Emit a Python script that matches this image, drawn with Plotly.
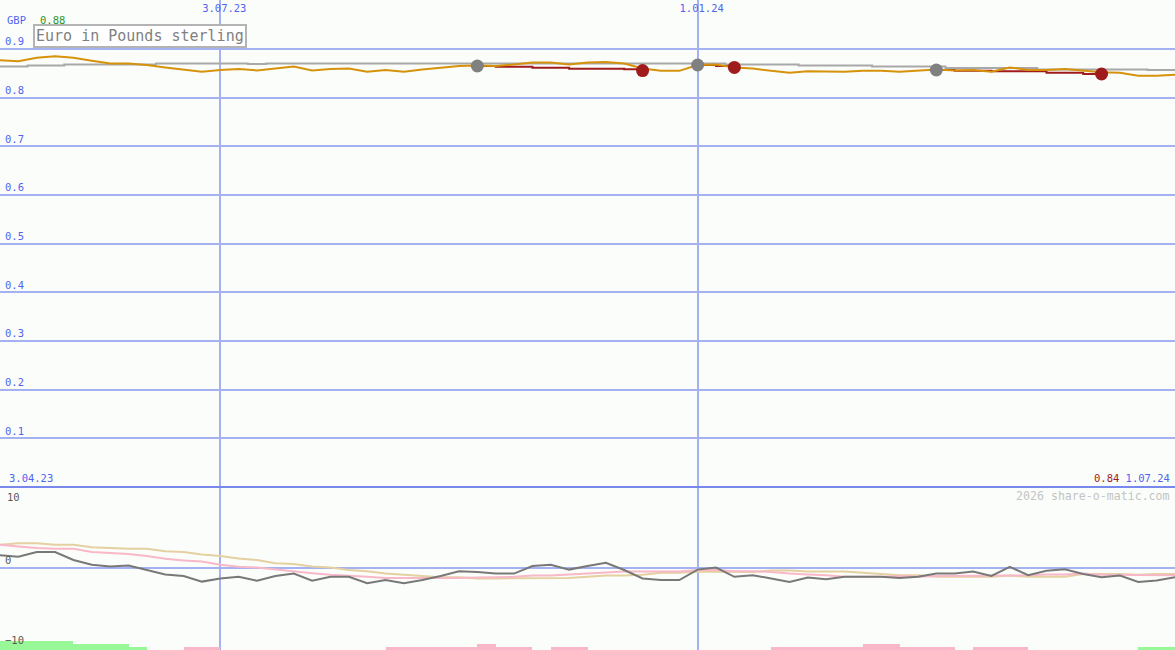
import pandas as pd
import plotly.graph_objects as go

# ==========================================
# DATA (weekly, 3.04.23 .. 1.07.24)
# ==========================================
dates = pd.date_range('2023-04-03', '2024-07-01', freq='7D')

# EUR in GBP, weekly close
eur_gbp = [0.877, 0.877, 0.875, 0.882, 0.885, 0.882, 0.876, 0.870, 0.870, 0.867,
           0.862, 0.858, 0.853, 0.857, 0.859, 0.856, 0.860, 0.864, 0.856, 0.859,
           0.860, 0.853, 0.857, 0.853, 0.858, 0.862, 0.865, 0.866, 0.865, 0.868,
           0.872, 0.872, 0.868, 0.872, 0.873, 0.870, 0.860, 0.855, 0.855, 0.867,
           0.868, 0.862, 0.860, 0.855, 0.851, 0.854, 0.854, 0.853, 0.855, 0.855,
           0.853, 0.855, 0.858, 0.856, 0.857, 0.853, 0.862, 0.857, 0.857, 0.859,
           0.855, 0.852, 0.851, 0.845, 0.845, 0.847]

# long moving average (grey step line)
avg_long = [0.864, 0.864, 0.864, 0.866, 0.866, 0.868, 0.868, 0.868, 0.868, 0.868,
            0.870, 0.870, 0.870, 0.870, 0.870, 0.869, 0.870, 0.870, 0.870, 0.870,
            0.870, 0.870, 0.870, 0.870, 0.870, 0.870, 0.870, 0.870, 0.870, 0.870,
            0.870, 0.870, 0.870, 0.870, 0.870, 0.870, 0.870, 0.870, 0.870, 0.870,
            0.870, 0.868, 0.868, 0.868, 0.868, 0.866, 0.866, 0.866, 0.866, 0.864,
            0.864, 0.864, 0.864, 0.861, 0.861, 0.861, 0.861, 0.861, 0.858, 0.858,
            0.858, 0.858, 0.858, 0.858, 0.857, 0.857]

# trades: (start week index, trailing values)
trade_starts = [27, 39, 52]
trade_values = [
    [0.865, 0.8636, 0.8636, 0.8616, 0.8616, 0.8595, 0.8595, 0.8595, 0.8583, 0.8555],
    [0.867, 0.865, 0.862],
    [0.8568, 0.8554, 0.8554, 0.8541, 0.8541, 0.8541, 0.8513, 0.8513, 0.8486, 0.8486],
]

# lower panel: oscillator and its two averages
osc = [1.5, 1.6, 1.4, 2.0, 2.0, 1.0, 0.4, 0.2, 0.3, -0.25,
       -0.8, -1.0, -1.7, -1.3, -1.1, -1.6, -1.0, -0.7, -1.6, -1.1,
       -1.1, -1.9, -1.5, -1.9, -1.5, -1.0, -0.4, -0.5, -0.7, -0.7,
       0.25, 0.4, -0.2, 0.25, 0.65, -0.25, -1.3, -1.5, -1.5, -0.2,
       0.05, -1.1, -0.9, -1.3, -1.75, -1.2, -1.4, -1.1, -1.1, -1.1,
       -1.25, -1.1, -0.7, -0.7, -0.45, -1.0, 0.15, -0.9, -0.35, -0.15,
       -0.75, -1.15, -0.95, -1.75, -1.55, -1.15]

osc_slow = [2.9, 2.9, 3.1, 3.1, 2.9, 2.9, 2.6, 2.5, 2.4, 2.4,
            2.1, 2.0, 1.7, 1.5, 1.2, 1.0, 0.6, 0.5, 0.2, 0.05,
            -0.25, -0.4, -0.7, -0.85, -1.0, -1.15, -1.15, -1.3, -1.3, -1.3,
            -1.25, -1.25, -1.25, -1.1, -0.95, -0.95, -0.85, -0.6, -0.6, -0.45,
            -0.45, -0.5, -0.5, -0.3, -0.3, -0.45, -0.45, -0.45, -0.6, -0.75,
            -0.9, -0.9, -1.1, -1.1, -1.1, -1.1, -0.95, -1.1, -1.1, -1.1,
            -0.75, -0.75, -0.75, -0.85, -0.75, -0.75]

osc_fast = [3.0, 2.9, 2.7, 2.5, 2.4, 2.4, 2.0, 1.9, 1.75, 1.5,
            1.15, 0.95, 0.8, 0.4, 0.15, 0.05, -0.2, -0.4, -0.65, -0.85,
            -0.95, -1.1, -1.25, -1.25, -1.3, -1.3, -1.25, -1.2, -1.15, -1.1,
            -0.95, -0.95, -0.8, -0.65, -0.55, -0.45, -0.45, -0.45, -0.45, -0.25,
            -0.25, -0.4, -0.4, -0.5, -0.7, -0.8, -0.9, -1.1, -1.1, -1.1,
            -1.0, -1.1, -1.0, -1.0, -1.0, -1.0, -0.95, -0.9, -0.8, -0.8,
            -0.7, -0.85, -0.85, -0.9, -0.9, -0.9]

# signal strength bars (+ green, - pink)
signal = [3, 3, 3, 3, 3, 2, 2, 2, 1, 0,
          0, -1, -1, 0, 0, 0, 0, 0, 0, 0,
          0, 0, -1, -1, -1, -1, -1, -2, -1, -1,
          0, -1, -1, 0, 0, 0, 0, 0, 0, 0,
          0, 0, 0, -1, -1, -1, -1, -1, -2, -2,
          -1, -1, -1, 0, -1, -1, -1, 0, 0, 0,
          0, 0, 0, 1, 1, 0]

x_ticks = ['2023-07-03', '2024-01-01']
x_tick_text = ['3.07.23', '1.01.24']

# ==========================================
# FIGURE
# ==========================================
W, H = 1175, 650
BG = '#fbfdfb'
BLUE = '#5064f0'
GRID = '#a4b2f2'
MONO = 'DejaVu Sans Mono'


def px(x):
    return x / W


def py(y):
    return 1 - y / H


fig = go.Figure()

# grey long average
fig.add_trace(go.Scatter(x=dates, y=avg_long, mode='lines', line_shape='hvh',
                         line=dict(color='#a8a8a8', width=2), xaxis='x', yaxis='y'))

# trades
for start, vals in zip(trade_starts, trade_values):
    d = dates[start:start + len(vals)]
    fig.add_trace(go.Scatter(x=d, y=vals, mode='lines', line_shape='hv',
                             line=dict(color='#a01c1c', width=2), xaxis='x', yaxis='y'))

# price
fig.add_trace(go.Scatter(x=dates, y=eur_gbp, mode='lines',
                         line=dict(color='#d6920a', width=2), xaxis='x', yaxis='y'))

# trade entry / exit markers
for start, vals in zip(trade_starts, trade_values):
    end = start + len(vals) - 1
    fig.add_trace(go.Scatter(x=[dates[start]], y=[vals[0]], mode='markers',
                             marker=dict(color='#808080', size=13), xaxis='x', yaxis='y'))
    fig.add_trace(go.Scatter(x=[dates[end]], y=[vals[-1]], mode='markers',
                             marker=dict(color='#a01c1c', size=13), xaxis='x', yaxis='y'))

# lower panel bars
week_ms = 7 * 24 * 3600 * 1000
green_h = [0.375 * s if s > 0 else 0 for s in signal]
pink_h = [0.375 * -s if s < 0 else 0 for s in signal]
fig.add_trace(go.Bar(x=dates, y=green_h, base=-10.25, width=week_ms, offset=0,
                     marker=dict(color='#98f898', line_width=0), xaxis='x', yaxis='y2'))
fig.add_trace(go.Bar(x=dates, y=pink_h, base=-10.25, width=week_ms, offset=0,
                     marker=dict(color='#f8b8c8', line_width=0), xaxis='x', yaxis='y2'))

# lower panel lines
fig.add_trace(go.Scatter(x=dates, y=osc_slow, mode='lines',
                         line=dict(color='#e4d0a0', width=2), xaxis='x', yaxis='y2'))
fig.add_trace(go.Scatter(x=dates, y=osc_fast, mode='lines',
                         line=dict(color='#f8b8c8', width=2), xaxis='x', yaxis='y2'))
fig.add_trace(go.Scatter(x=dates, y=osc, mode='lines',
                         line=dict(color='#787878', width=2), xaxis='x', yaxis='y2'))

main_ticks = [0.1, 0.2, 0.3, 0.4, 0.5, 0.6, 0.7, 0.8, 0.9, 1.0]
main_text = ['0.1', '0.2', '0.3', '0.4', '0.5', '0.6', '0.7', '0.8', '0.9', '']

fig.update_layout(
    width=W, height=H,
    margin=dict(l=0, r=0, t=0, b=0),
    paper_bgcolor=BG, plot_bgcolor=BG,
    showlegend=False, hovermode=False, bargap=0,
    font=dict(family=MONO, size=10.5, color=BLUE),
    xaxis=dict(
        domain=[0, 1], anchor='y', side='top',
        range=['2023-04-10', '2024-07-01'],
        tickvals=x_ticks, ticktext=x_tick_text,
        ticklabelposition='inside', ticks='',
        ticklabelshift=4, ticklabelstandoff=2,
        tickfont=dict(family=MONO, size=10.5, color=BLUE),
        showgrid=True, gridcolor=GRID, gridwidth=2,
        zeroline=False, showline=False,
    ),
    yaxis=dict(
        domain=[163 / H, 1], anchor='x',
        range=[0, 1.0006],
        tickvals=main_ticks, ticktext=main_text,
        ticklabelposition='inside top', ticks='',
        ticklabelstandoff=2,
        tickfont=dict(family=MONO, size=10.5, color=BLUE),
        showgrid=True, gridcolor=GRID, gridwidth=2,
        zeroline=True, zerolinecolor='#7888ec', zerolinewidth=2,
        showline=False,
    ),
    yaxis2=dict(
        domain=[0, 162 / H], anchor='x',
        range=[-10.25, 10],
        tickvals=[0, -10], ticktext=['0', '\u221210'],
        ticklabelposition='inside top', ticks='',
        ticklabelstandoff=2,
        tickfont=dict(family=MONO, size=10.5, color='#5a5a5a'),
        showgrid=False,
        zeroline=True, zerolinecolor=GRID, zerolinewidth=2,
        showline=False,
    ),
)

ann = [
    dict(x=px(5), y=py(20), text='GBP', xanchor='left', font=dict(color=BLUE)),
    dict(x=px(38), y=py(20), text='0.88', xanchor='left', font=dict(color='#2a962a')),
    dict(x=px(33), y=py(24), text='Euro in Pounds sterling', xanchor='left', yanchor='top',
         font=dict(size=15, color='#808080'), bgcolor='#ffffff',
         bordercolor='#b4b4b4', borderwidth=2, borderpad=1),
    dict(x=px(7), y=py(478), text='3.04.23', xanchor='left', font=dict(color=BLUE)),
    dict(x=px(1172), y=py(478), text='<span style="color:#a01c1c">0.84</span> 1.07.24',
         xanchor='right', font=dict(color=BLUE)),
    dict(x=px(5), y=py(497), text='10', xanchor='left', font=dict(color='#5a5a5a')),
    dict(x=px(1172), y=py(496), text='2026 share-o-matic.com', xanchor='right',
         font=dict(size=11.6, color='#c4c4c4')),
]
for a in ann:
    a.update(xref='paper', yref='paper', showarrow=False, yanchor=a.get('yanchor', 'middle'))
    f = dict(family=MONO, size=10.5)
    f.update(a['font'])
    a['font'] = f
fig.update_layout(annotations=ann)

# page body has a default margin; drop it so the chart sits at the corner
fig.write_html("out.html", config={'displayModeBar': False},
               post_script="document.body.style.margin='0';")
